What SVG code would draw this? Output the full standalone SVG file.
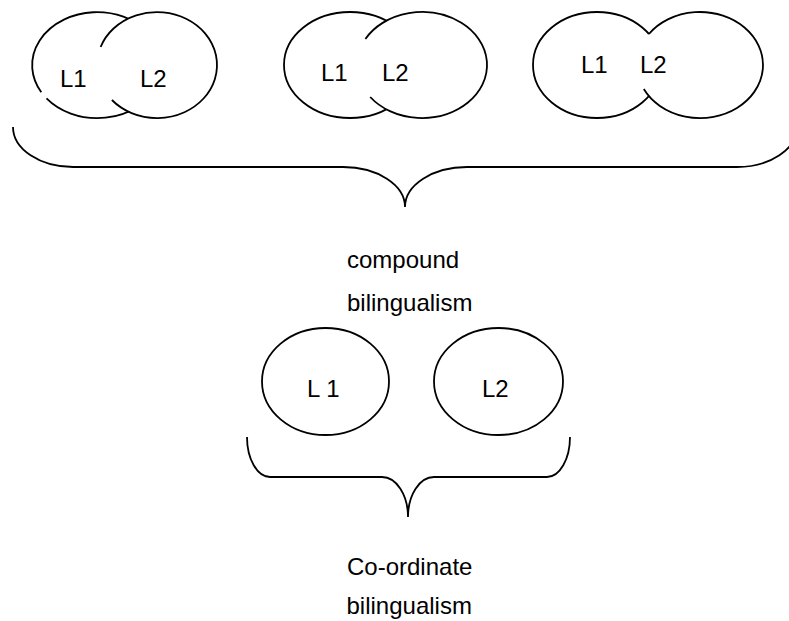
<svg xmlns="http://www.w3.org/2000/svg" width="789" height="621" viewBox="0 0 789 621">
<style>
.sh{fill:#fff;stroke:#000;stroke-width:1.8}
.wf{fill:#fff;stroke:none}
.ln{fill:none;stroke:#000;stroke-width:1.8}
.t{font-family:"Liberation Sans",Arial,sans-serif;font-size:24px;fill:#000}
</style>
<rect width="789" height="621" fill="#fff"/>
<g id="pair1">
  <path class="sh" d="M41.3 92.3 A65 53 0 1 1 46.5 98.4"/>
  <ellipse class="wf" cx="157" cy="65" rx="60" ry="53"/>
  <path class="ln" d="M100.6 47 A60 53 0 1 1 111.9 100"/>
  <text class="t" x="60" y="87">L1</text>
  <text class="t" x="140" y="87">L2</text>
</g>
<g id="pair2">
  <ellipse class="sh" cx="350" cy="65" rx="66" ry="53"/>
  <ellipse class="wf" cx="422" cy="65" rx="65" ry="53"/>
  <path class="ln" d="M365.4 39 A65 53 0 1 1 370.2 97"/>
  <text class="t" x="321" y="81">L1</text>
  <text class="t" x="382" y="81">L2</text>
</g>
<g id="pair3">
  <ellipse class="sh" cx="597" cy="65" rx="64" ry="53"/>
  <ellipse class="wf" cx="700" cy="65" rx="63" ry="53"/>
  <path class="ln" d="M648.9 34 A63 53 0 1 1 643.8 89"/>
  <text class="t" x="581" y="73">L1</text>
  <text class="t" x="640" y="73">L2</text>
</g>
<g id="compound-label">
  <text class="t" x="347" y="268">compound</text>
  <text class="t" x="347" y="311">bilingualism</text>
</g>
<g id="coord-L1">
  <ellipse class="sh" cx="325.5" cy="381.5" rx="63.5" ry="53.5"/>
  <text class="t" x="307" y="397">L 1</text>
</g>
<g id="coord-L2">
  <ellipse class="sh" cx="498.5" cy="381.5" rx="64.5" ry="53.5"/>
  <text class="t" x="482" y="397">L2</text>
</g>
<g id="coordinate-label">
  <text class="t" x="347" y="575">Co-ordinate</text>
  <text class="t" x="346.5" y="614">bilingualism</text>
</g>
<g id="connectors">
  <path class="ln" d="M13 127 A60 40 0 0 0 73 167 L343 167 A62 40 0 0 1 405 207 A62 40 0 0 1 467 167 L737 167 A60 40 0 0 0 797 127"/>
  <path class="ln" d="M247 437 A23 40 0 0 0 270 477 L382 477 A26 40 0 0 1 408 517 A26 40 0 0 1 434 477 L547 477 A23 40 0 0 0 570 437"/>
</g>
</svg>
